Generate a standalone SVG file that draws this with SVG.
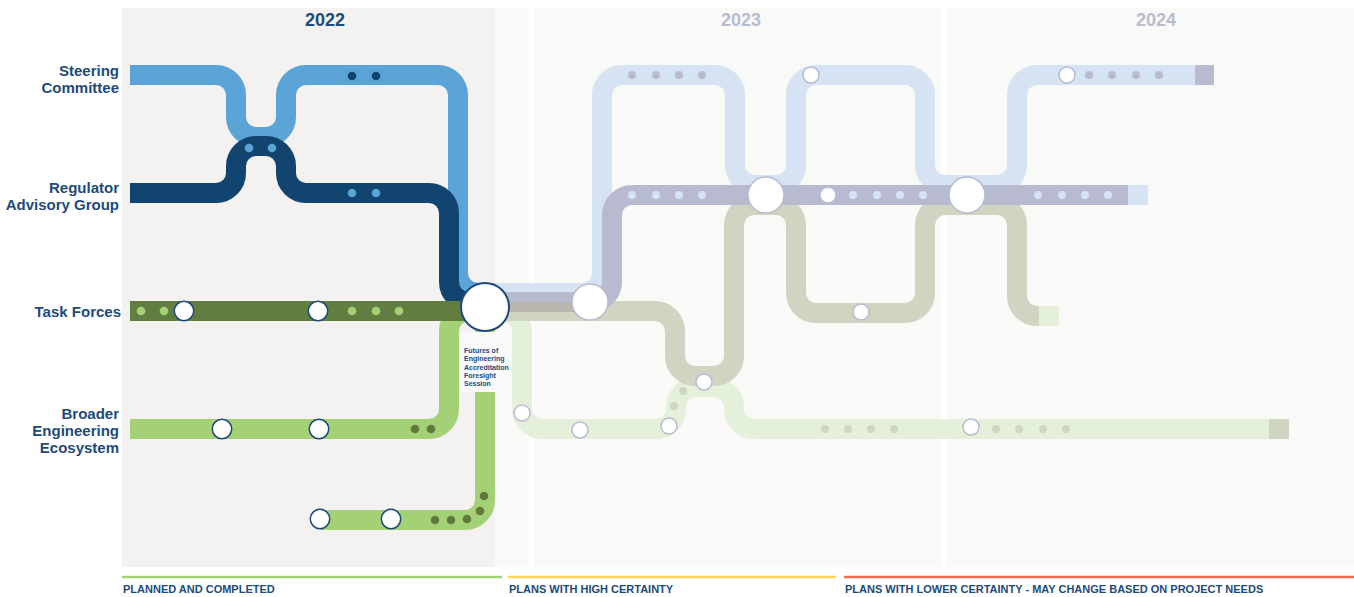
<svg xmlns="http://www.w3.org/2000/svg" width="1354" height="597" viewBox="0 0 1354 597">
<defs>
<style>
.ln{fill:none;stroke-width:20;stroke-linejoin:round}
.lbl{font-family:"Liberation Sans",Arial,sans-serif;font-weight:bold;font-size:15px;fill:#1d4a7c;text-anchor:end}
.yr{font-family:"Liberation Sans",Arial,sans-serif;font-weight:bold;font-size:18px;text-anchor:middle}
.lg{font-family:"Liberation Sans",Arial,sans-serif;font-weight:bold;font-size:11px;fill:#1d4a7c}
.box{font-family:"Liberation Sans",Arial,sans-serif;font-weight:bold;font-size:7px;fill:#1d4a7c}
.c22{fill:#fff;stroke:#1d4a7c;stroke-width:1.5}
.c23{fill:#fff;stroke:#b8bbd0;stroke-width:1.5}
.d1{fill:#11446f}.d2{fill:#5ba4d7}.d3{fill:#a4d176}.d4{fill:#5f7a3a}
.d5{fill:#b8bbd0}.d6{fill:#d5e3f3}.d7{fill:#d0d5c2}
</style>
</defs>

<g id="background">
<rect x="0" y="0" width="1354" height="597" fill="#ffffff"/>
<rect x="495" y="8" width="859" height="559" fill="#f9f9f7"/>
<rect x="529" y="8" width="5" height="559" fill="#ffffff"/>
<rect x="941" y="8" width="6" height="559" fill="#ffffff"/>
<rect x="122" y="8" width="373" height="559" fill="#f3f2f0"/>
<text class="yr" x="325" y="26" fill="#1d4a7c">2022</text>
<text class="yr" x="741" y="26" fill="#b8bccf">2023</text>
<text class="yr" x="1156" y="26" fill="#b8bccf">2024</text>
</g>

<g id="lane-labels">
<text class="lbl" x="119" y="76">Steering</text>
<text class="lbl" x="119" y="93">Committee</text>
<text class="lbl" x="119" y="193">Regulator</text>
<text class="lbl" x="119" y="210">Advisory Group</text>
<text class="lbl" x="121" y="317">Task Forces</text>
<text class="lbl" x="119" y="418.5">Broader</text>
<text class="lbl" x="119" y="436">Engineering</text>
<text class="lbl" x="119" y="453">Ecosystem</text>
</g>

<g id="connectors">
<!-- future lines -->
<path class="ln" stroke="#e4f0da" d="M485,311 H502 A20,20 0 0 1 522,331 V409 A20,20 0 0 0 542,429 H656 A20,20 0 0 0 676,409 V407 A20,20 0 0 1 696,387 H714 A20,20 0 0 1 734,407 V409 A20,20 0 0 0 754,429 H1269"/>
<rect x="1269" y="419" width="20" height="20" fill="#d0d5c2"/>
<path class="ln" stroke="#d0d5c2" d="M485,311 H655 A20,20 0 0 1 675,331 V356 A20,20 0 0 0 695,376 H714 A20,20 0 0 0 734,356 V225 A20,20 0 0 1 754,205 H776 A20,20 0 0 1 796,225 V293 A20,20 0 0 0 816,313 H905 A20,20 0 0 0 925,293 V225 A20,20 0 0 1 945,205 H997 A20,20 0 0 1 1017,225 V296 A20,20 0 0 0 1037,316 H1039"/>
<rect x="1039" y="306" width="20" height="20" fill="#e4f0da"/>
<path class="ln" stroke="#d5e3f3" d="M478,293 H582 A20,20 0 0 0 602,273 V95 A20,20 0 0 1 622,75 H715 A20,20 0 0 1 735,95 V165 A20,20 0 0 0 755,185 H776 A20,20 0 0 0 796,165 V95 A20,20 0 0 1 816,75 H905 A20,20 0 0 1 925,95 V165 A20,20 0 0 0 945,185 H997 A20,20 0 0 0 1017,165 V95 A20,20 0 0 1 1037,75 H1195"/>
<rect x="1195" y="65" width="19" height="20" fill="#b8bbd0"/>
<path class="ln" stroke="#b8bbd0" d="M485,302 H592 A20,20 0 0 0 612,282 V215 A20,20 0 0 1 632,195 H1128"/>
<rect x="1128" y="185" width="20" height="20" fill="#d5e3f3"/>
<rect x="500" y="302" width="75" height="10" fill="#b9b6b0"/>
<!-- 2022 lines -->
<path class="ln" stroke="#a4d176" d="M130,429 H429 A20,20 0 0 0 449,409 V331 A20,20 0 0 1 469,311 H490"/>
<path class="ln" stroke="#a4d176" d="M485,307 V500 A20,20 0 0 1 465,520 H320"/>
<path class="ln" stroke="#5ba4d7" d="M130,75 H216 A20,20 0 0 1 236,95 V117 A20,20 0 0 0 256,137 H266 A20,20 0 0 0 286,117 V95 A20,20 0 0 1 306,75 H438 A20,20 0 0 1 458,95 V273 A20,20 0 0 0 478,293 H490"/>
<path class="ln" stroke="#11446f" d="M130,193 H216 A20,20 0 0 0 236,173 V166 A20,20 0 0 1 256,146 H266 A20,20 0 0 1 286,166 V173 A20,20 0 0 0 306,193 H429 A20,20 0 0 1 449,213 V282 A20,20 0 0 0 469,302 H490"/>
<path class="ln" stroke="#617e40" d="M130,311 H490"/>
</g>

<g id="stations-steering">
<circle class="d1" cx="352" cy="76" r="4.3"/><circle class="d1" cx="376" cy="76" r="4.3"/>
<circle class="d5" cx="632" cy="75" r="4"/><circle class="d5" cx="656" cy="75" r="4"/><circle class="d5" cx="679" cy="75" r="4"/><circle class="d5" cx="702" cy="75" r="4"/>
<circle class="d5" cx="1089" cy="75" r="4"/><circle class="d5" cx="1112" cy="75" r="4"/><circle class="d5" cx="1136" cy="75" r="4"/><circle class="d5" cx="1159" cy="75" r="4"/>
<circle class="c23" cx="811" cy="75" r="8"/>
<circle class="c23" cx="1067" cy="75" r="8"/>
</g>

<g id="stations-regulator">
<circle class="d2" cx="249" cy="148" r="4.3"/><circle class="d2" cx="272" cy="148" r="4.3"/>
<circle class="d2" cx="352" cy="193" r="4.3"/><circle class="d2" cx="376" cy="193" r="4.3"/>
<circle class="d6" cx="632" cy="195" r="4"/><circle class="d6" cx="656" cy="195" r="4"/><circle class="d6" cx="679" cy="195" r="4"/><circle class="d6" cx="702" cy="195" r="4"/>
<circle class="d6" cx="853" cy="195" r="4"/><circle class="d6" cx="877" cy="195" r="4"/><circle class="d6" cx="900" cy="195" r="4"/><circle class="d6" cx="923" cy="195" r="4"/>
<circle class="d6" cx="1038" cy="195" r="4"/><circle class="d6" cx="1062" cy="195" r="4"/><circle class="d6" cx="1085" cy="195" r="4"/><circle class="d6" cx="1108" cy="195" r="4"/>
<circle class="c23" cx="766" cy="195" r="18"/>
<circle class="c23" cx="828" cy="195" r="8"/>
<circle class="c23" cx="967" cy="195" r="18"/>
</g>

<g id="stations-taskforces">
<circle class="d3" cx="141" cy="311" r="4.3"/><circle class="d3" cx="164" cy="311" r="4.3"/>
<circle class="d3" cx="352" cy="311" r="4.3"/><circle class="d3" cx="376" cy="311" r="4.3"/><circle class="d3" cx="399" cy="311" r="4.3"/>
<circle class="c22" cx="184" cy="311" r="9.7"/>
<circle class="c22" cx="318" cy="311" r="9.7"/>
<circle class="c23" cx="861" cy="312" r="8"/>
<circle class="c23" cx="704" cy="382" r="8"/>
</g>

<g id="stations-broader">
<circle class="d4" cx="415" cy="429" r="4.3"/><circle class="d4" cx="431" cy="429" r="4.3"/>
<circle class="c22" cx="222" cy="429" r="9.7"/>
<circle class="c22" cx="319" cy="429" r="9.7"/>
<circle class="d4" cx="435" cy="520" r="4.3"/><circle class="d4" cx="451" cy="520" r="4.3"/><circle class="d4" cx="467" cy="519" r="4.3"/><circle class="d4" cx="480" cy="511" r="4.3"/><circle class="d4" cx="484" cy="496" r="4.3"/>
<circle class="c22" cx="320" cy="519" r="9.7"/>
<circle class="c22" cx="391" cy="519" r="9.7"/>
<circle class="d7" cx="683" cy="391" r="4"/><circle class="d7" cx="674" cy="406" r="4"/>
<circle class="d7" cx="825" cy="429" r="4"/><circle class="d7" cx="848" cy="429" r="4"/><circle class="d7" cx="871" cy="429" r="4"/><circle class="d7" cx="894" cy="429" r="4"/>
<circle class="d7" cx="996" cy="429" r="4"/><circle class="d7" cx="1019" cy="429" r="4"/><circle class="d7" cx="1043" cy="429" r="4"/><circle class="d7" cx="1066" cy="429" r="4"/>
<circle class="c23" cx="522" cy="413" r="8"/>
<circle class="c23" cx="580" cy="430" r="8"/>
<circle class="c23" cx="669" cy="426" r="8"/>
<circle class="c23" cx="971" cy="427" r="8"/>
</g>

<g id="hub-secondary">
<circle class="c23" cx="590" cy="302" r="18"/>
</g>

<g id="hub">
<rect x="459" y="332" width="52" height="60" rx="4" fill="#fafafa"/>
<text class="box" x="464" y="352.5">Futures of</text>
<text class="box" x="464" y="361">Engineering</text>
<text class="box" x="464" y="369.5">Accreditation</text>
<text class="box" x="464" y="377.5">Foresight</text>
<text class="box" x="464" y="386">Session</text>
<circle cx="485" cy="307" r="24" fill="#fff" stroke="#1d4a7c" stroke-width="2"/>
</g>

<g id="legend">
<line x1="122" y1="577" x2="502" y2="577" stroke="#a4d176" stroke-width="2.5"/>
<line x1="508" y1="577" x2="836" y2="577" stroke="#fbd45a" stroke-width="2.5"/>
<line x1="844" y1="577" x2="1354" y2="577" stroke="#ee6b4d" stroke-width="2.5"/>
<text class="lg" x="123" y="593">PLANNED AND COMPLETED</text>
<text class="lg" x="509" y="593">PLANS WITH HIGH CERTAINTY</text>
<text class="lg" x="845" y="593">PLANS WITH LOWER CERTAINTY - MAY CHANGE BASED ON PROJECT NEEDS</text>
</g>
</svg>
